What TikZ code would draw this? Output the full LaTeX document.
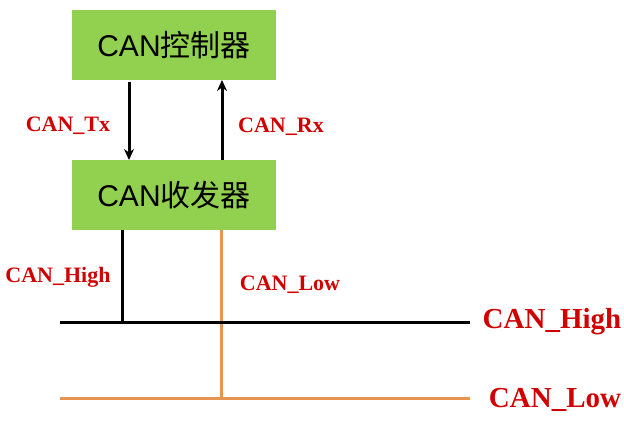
\documentclass[tikz,border=0pt]{standalone}
\usepackage{fontspec}
\setmainfont{Liberation Serif}
\newfontfamily\cjk{Noto Sans CJK SC}
\newfontfamily\lsans{Liberation Sans}
\usetikzlibrary{arrows.meta}
\definecolor{boxgreen}{HTML}{92D050}
\definecolor{lowor}{HTML}{E8964F}
\definecolor{labred}{HTML}{D00000}
\tikzset{
  greenbox/.style={fill=boxgreen, draw=none, minimum width=204pt, minimum height=70pt, inner sep=0pt, font=\fontsize{30}{32}\selectfont},
  lab/.style={text=labred, font=\bfseries\fontsize{22}{24}\selectfont, inner sep=0pt},
  biglab/.style={text=labred, font=\bfseries\fontsize{29}{31}\selectfont, inner sep=0pt},
  sig/.style={line width=3pt, -{Stealth[length=11pt,width=10pt]}},
  hi/.style={line width=3pt, black},
  lo/.style={line width=3pt, lowor}
}
\begin{document}
\begin{tikzpicture}[x=1pt,y=-1pt]
\useasboundingbox (0,0) rectangle (624,438);
\node[greenbox] (ctrl) at (174,45) {\lsans CAN\cjk 控制器};
\node[greenbox] (xcvr) at (174,195) {\lsans CAN\cjk 收发器};
\coordinate (txa) at (129,82);
\coordinate (txb) at (129,160);
\coordinate (rxa) at (222,160);
\coordinate (rxb) at (222,80);
\draw[sig] (txa) -- (txb);
\draw[sig] (rxa) -- (rxb);
\node[lab] (tx) at (68,126) {CAN\_Tx};
\node[lab] (rx) at (281,127) {CAN\_Rx};
% bus
\coordinate (hl) at (60,323);
\coordinate (hr) at (470,323);
\coordinate (ll) at (60,398);
\coordinate (lr) at (470,398);
\coordinate (ht) at (122,230);
\coordinate (hb) at (122,323);
\coordinate (lt) at (221,230);
\coordinate (lb) at (221,398);
\draw[lo] (ll) -- (lr);
\draw[lo] (lt) -- (lb);
\draw[hi] (hl) -- (hr);
\draw[hi] (ht) -- (hb);
\node[lab] (hlab) at (58,277) {CAN\_High};
\node[lab] (llab) at (290,285) {CAN\_Low};
\node[biglab] (hbig) at (552,322) {CAN\_High};
\node[biglab] (lbig) at (555,400) {CAN\_Low};
\end{tikzpicture}
\end{document}
